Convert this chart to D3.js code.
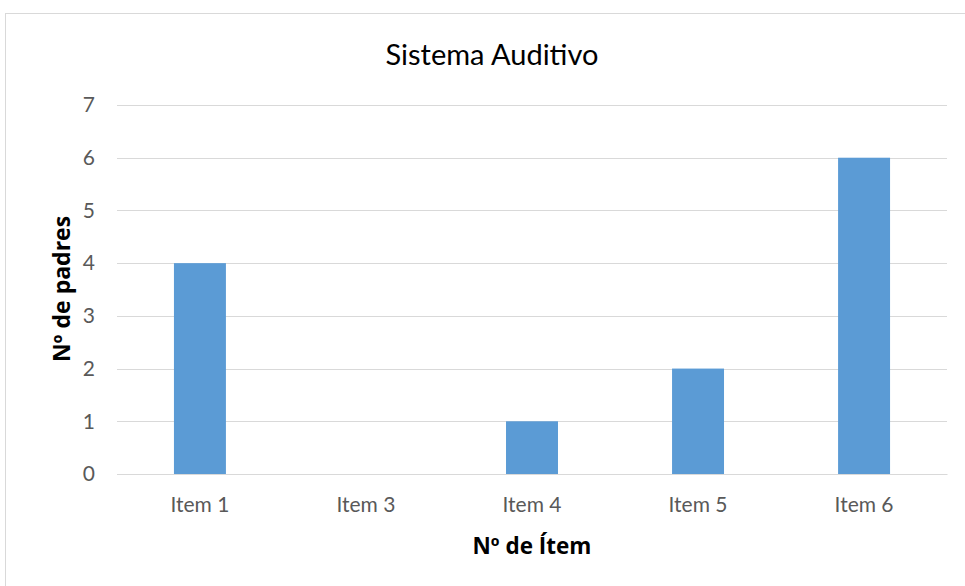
<!DOCTYPE html>
<html>
<head>
<meta charset="utf-8">
<script src="https://cdn.jsdelivr.net/npm/d3@7"></script>
<style>
  body { margin: 0; background: #fff; }
  svg { display: block; }
</style>
</head>
<body>
<svg id="chart"></svg>
<script>
// data
var categories = ["Item 1", "Item 3", "Item 4", "Item 5", "Item 6"];
var values = [4, 0, 1, 2, 6];
var yTicks = [0, 1, 2, 3, 4, 5, 6, 7];

var width = 965;
var height = 586;
var margin = { top: 105, right: 18, bottom: 112, left: 117 };
var font = "Lato, 'Open Sans', sans-serif";

var svg = d3.select("#chart")
  .attr("width", width)
  .attr("height", height);

// chart frame
svg.append("rect")
  .attr("x", 5.5)
  .attr("y", 13.5)
  .attr("width", width + 10)
  .attr("height", height)
  .attr("fill", "#fff")
  .attr("stroke", "#d9d9d9");

var xScale = d3.scaleBand()
  .domain(categories)
  .range([margin.left, width - margin.right])
  .paddingInner(0.687)
  .paddingOuter(0.343);

var yScale = d3.scaleLinear()
  .domain([0, 7])
  .range([height - margin.bottom, margin.top]);

// gridlines
svg.append("g")
  .selectAll("line")
  .data(yTicks)
  .enter()
  .append("line")
  .attr("x1", margin.left)
  .attr("x2", width - margin.right)
  .attr("y1", (d) => Math.round(yScale(d)) + 0.5)
  .attr("y2", (d) => Math.round(yScale(d)) + 0.5)
  .attr("stroke", "#d9d9d9")
  .attr("stroke-width", 1);

// bars
svg.append("g")
  .selectAll("rect")
  .data(values)
  .enter()
  .append("rect")
  .attr("x", (d, i) => xScale(categories[i]))
  .attr("width", xScale.bandwidth())
  .attr("y", (d) => yScale(d))
  .attr("height", (d) => yScale(0) - yScale(d))
  .attr("fill", "#5b9bd5");

// y axis
var yAxis = d3.axisLeft(yScale)
  .tickValues(yTicks)
  .tickFormat(d3.format("d"))
  .tickSize(0)
  .tickPadding(22);
var gy = svg.append("g")
  .attr("transform", "translate(" + margin.left + ",0)")
  .call(yAxis);
gy.select(".domain").remove();
gy.selectAll("text")
  .attr("fill", "#595959")
  .style("font-family", font)
  .style("font-size", "21px");

// x axis
var xAxis = d3.axisBottom(xScale).tickSize(0).tickPadding(23);
var gx = svg.append("g")
  .attr("transform", "translate(0," + (height - margin.bottom) + ")")
  .call(xAxis);
gx.select(".domain").attr("stroke", "#d9d9d9");
gx.selectAll("text")
  .attr("fill", "#595959")
  .style("font-family", font)
  .style("font-size", "21px");

// title
svg.append("text")
  .attr("x", 492)
  .attr("y", 65)
  .attr("text-anchor", "middle")
  .attr("fill", "#000")
  .style("font-family", font)
  .style("font-size", "29px")
  .text("Sistema Auditivo");

// axis titles
svg.append("text")
  .attr("x", 532)
  .attr("y", 554)
  .attr("text-anchor", "middle")
  .attr("fill", "#000")
  .style("font-family", "'Open Sans', sans-serif")
  .style("font-size", "22.5px")
  .style("font-weight", "bold")
  .text("Nº de Ítem");

svg.append("text")
  .attr("transform", "translate(70,289) rotate(-90)")
  .attr("text-anchor", "middle")
  .attr("fill", "#000")
  .style("font-family", "'Open Sans', sans-serif")
  .style("font-size", "23px")
  .style("font-weight", "bold")
  .text("Nº de padres");
</script>
</body>
</html>
